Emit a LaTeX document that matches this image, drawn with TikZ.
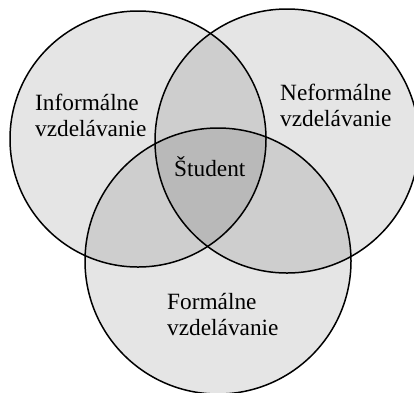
\documentclass[tikz,border=0pt]{standalone}
\usepackage{fontspec}
\setmainfont{Liberation Serif}
\begin{document}
\begin{tikzpicture}[x=1pt,y=-1pt,
  ring/.style={fill=black, fill opacity=0.1},
  rim/.style={draw=black, line width=1.5pt},
  lbl/.style={font=\fontsize{23.3}{27}\selectfont, inner sep=0pt, anchor=base west, text=black}]
\useasboundingbox (0,0) rectangle (414,392);
\clip (0,0) rectangle (414,392);
% fills
\fill[ring] (138,139) circle[radius=128];
\fill[ring] (287,141) circle[radius=132];
\fill[ring] (218,261) circle[radius=133];
% outlines
\draw[rim] (138,139) circle[radius=128];
\draw[rim] (287,141) circle[radius=132];
\draw[rim] (218,261) circle[radius=133];
% labels
\node[lbl] (inf1) at (35,110) {Informálne};
\node[lbl] (inf2) at (35,136) {vzdelávanie};
\node[lbl] (nef1) at (280,100) {Neformálne};
\node[lbl] (nef2) at (280,126) {vzdelávanie};
\node[lbl] (stu) at (174,176) {Študent};
\node[lbl] (for1) at (167,309) {Formálne};
\node[lbl] (for2) at (167,335) {vzdelávanie};
\end{tikzpicture}
\end{document}
